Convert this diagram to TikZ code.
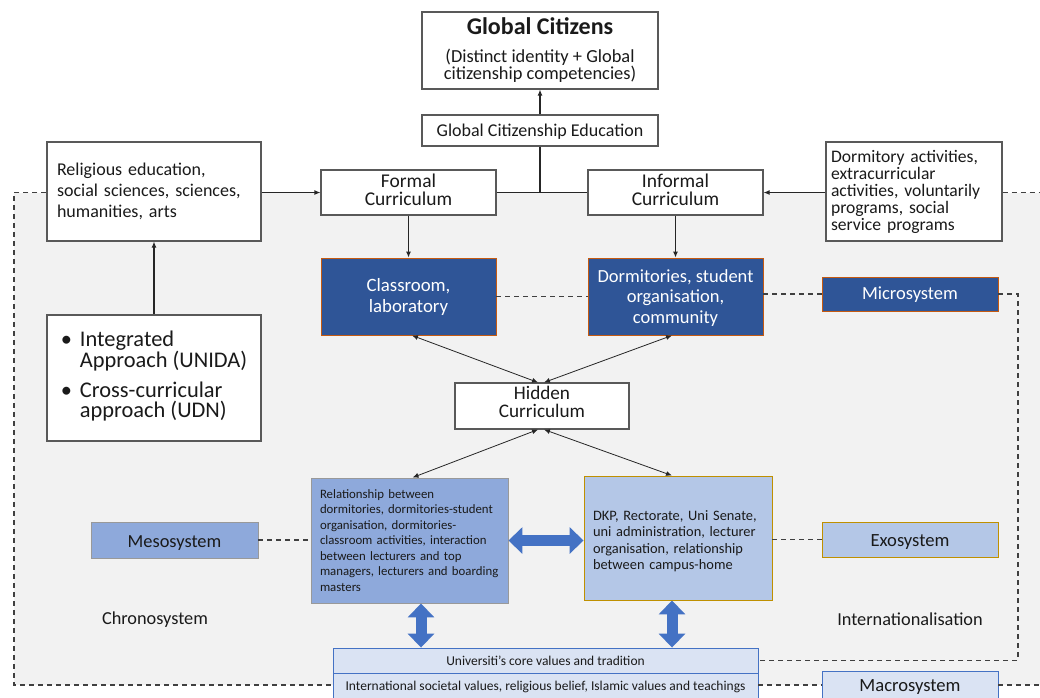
\documentclass[tikz,border=0pt]{standalone}
\usepackage{fontspec}
\setmainfont{Carlito}
\usetikzlibrary{arrows.meta,calc}
\definecolor{dkblue}{HTML}{2F5597}
\definecolor{dkborder}{HTML}{C55A11}
\definecolor{meso}{HTML}{8EA9DB}
\definecolor{exo}{HTML}{B4C7E7}
\definecolor{gold}{HTML}{BF9000}
\definecolor{macro}{HTML}{DAE3F3}
\definecolor{midblue}{HTML}{4472C4}
\definecolor{boxgray}{HTML}{595959}
\definecolor{bggray}{HTML}{F2F2F2}
\definecolor{dashgray}{HTML}{404040}
\definecolor{txt}{HTML}{1A1A1A}
\newcommand{\lowdepth}[1]{\rule[-#1]{0pt}{0pt}}
\newcommand{\tallht}[1]{\rule{0pt}{#1}}
\begin{document}
\begin{tikzpicture}[x=1pt,y=-1pt,
  base/.style={inner sep=0pt, align=center, text=txt},
  wbox/.style={base, draw=boxgray, line width=1.1pt, fill=white},
  dbox/.style={base, draw=dkborder, line width=0.9pt, fill=dkblue, text=white},
  mbox/.style={base, draw=gray!80, line width=0.9pt, fill=meso},
  ebox/.style={base, draw=gold, line width=0.9pt, fill=exo},
  cbox/.style={base, draw=midblue, line width=0.9pt, fill=macro},
  arr/.style={draw=black!85, line width=1.1pt, -{Latex[length=6pt,width=5pt]}},
  darr/.style={draw=black!85, line width=0.8pt, {Latex[length=6pt,width=5pt]}-{Latex[length=6pt,width=5pt]}},
  barr/.style={draw=midblue, line width=11pt, {Triangle[width=26pt,length=14pt]}-{Triangle[width=26pt,length=14pt]}},
  dsh/.style={draw=dashgray, line width=1.5pt, dash pattern=on 5pt off 4pt},
  f/.style={font=\fontsize{#1}{#1}\selectfont}
]
\useasboundingbox (0,0) rectangle (1040,697);
\fill[bggray] (14,192.5) rectangle (1045,685);

% top
\node[wbox, minimum width=236pt, minimum height=77pt] (gc) at (540,50.5)
  {\fontsize{24}{24}\selectfont\bfseries Global Citizens\\[13pt]
   \fontsize{18.4}{16.5}\selectfont (Distinct identity + Global\\ \fontsize{18.4}{16.5}\selectfont citizenship competencies)};
\node[wbox, minimum width=236pt, minimum height=31pt, f=18, text height=16.5pt, text depth=4.5pt] (gce) at (540,130.5) {Global Citizenship Education};

% curriculum row
\node[wbox, minimum width=214pt, minimum height=99pt, text width=194pt, align=left, font=\fontsize{18}{21}\selectfont] (relig) at (154,191.5)
  {Religious education,\\ social sciences, sciences,\\ humanities, arts};
\node[wbox, minimum width=175pt, minimum height=45pt, font=\fontsize{19.5}{18.5}\selectfont] (formal) at (408.5,192.5) {Formal\\ Curriculum\lowdepth{6pt}};
\node[wbox, minimum width=175pt, minimum height=45pt, font=\fontsize{19.5}{18.5}\selectfont] (informal) at (675.5,192.5) {Informal\\ Curriculum\lowdepth{6pt}};
\node[wbox, minimum width=176pt, minimum height=99pt, text width=166pt, align=left, font=\fontsize{17.6}{17}\selectfont] (dact) at (914,191.5)
  {Dormitory activities,\\ extracurricular\\ activities, voluntarily\\ programs, social\\ service programs};

% microsystem row
\node[dbox, minimum width=175pt, minimum height=77pt, font=\fontsize{18.8}{21}\selectfont] (class) at (408.5,296.5) {Classroom,\\ laboratory};
\node[dbox, minimum width=175pt, minimum height=77pt, font=\fontsize{18.5}{20.5}\selectfont] (dorm) at (675.5,296.5) {\tallht{15pt}Dormitories, student\\ organisation,\\ community};
\node[dbox, minimum width=176pt, minimum height=34pt, f=18.5, text height=15pt, text depth=4pt] (micro) at (910,294) {Microsystem};

% approaches
\node[wbox, minimum width=214pt, minimum height=126pt, font=\fontsize{22.4}{20.5}\selectfont] (integ) at (154,378)
  {\begin{tabular}{@{}l@{\hspace{8pt}}l@{}}
   \textbullet & \smash{Integrated}\\
               & \smash{Approach (UNIDA)}\\[9.5pt]
   \textbullet & \smash{Cross-curricular}\\
               & \smash{approach (UDN)}
   \end{tabular}};

\node[wbox, minimum width=174pt, minimum height=46pt, font=\fontsize{19.2}{18.5}\selectfont] (hidden) at (542,406) {Hidden\\ Curriculum\lowdepth{8pt}};

% meso / exo row
\node[mbox, minimum width=197pt, minimum height=125pt, text width=179pt, align=left, font=\fontsize{12.8}{15.5}\selectfont] (rel) at (409.5,540.5)
  {Relationship between\\ dormitories, dormitories-student\\ organisation, dormitories-\\ classroom activities, interaction\\ between lecturers and top\\ managers, lecturers and boarding\\ masters};
\node[ebox, minimum width=188pt, minimum height=124pt, text width=170pt, align=left, font=\fontsize{14.4}{16.5}\selectfont] (dkp) at (678,538)
  {\tallht{16pt}DKP, Rectorate, Uni Senate,\\ uni administration, lecturer\\ organisation, relationship\\ between campus-home};
\node[mbox, minimum width=167pt, minimum height=36pt, f=18.4, text height=18pt, text depth=3pt] (meso) at (174.5,540) {Mesosystem};
\node[ebox, minimum width=176pt, minimum height=35pt, f=18.6, text height=17pt, text depth=3pt] (exo) at (910,539.5) {Exosystem};

\node[base, f=18.3] (chrono) at (155,620) {Chronosystem};
\node[base, f=18.3] (intern) at (910,619.5) {Internationalisation};

% bottom
\node[cbox, minimum width=425pt, minimum height=25pt, f=13.5] (univ) at (545.5,660.5) {Universiti’s core values and tradition};
\node[cbox, minimum width=425pt, minimum height=27pt, f=13.5] (intl) at (545.5,686.5) {International societal values, religious belief, Islamic values and teachings};
\node[cbox, minimum width=176pt, minimum height=29pt, f=18.6, text height=16pt, text depth=3.2pt] (macro) at (910,685.5) {Macrosystem};

% solid connectors
\draw[arr] (gce.north) -- (gc.south);
\coordinate (J) at (gce.south |- formal.east);
\draw[draw=black!85, line width=1.1pt] (gce.south) -- (J) (formal.east) -- (informal.west);
\draw[arr] (relig.east |- formal.west) -- (formal.west);
\draw[arr] (dact.west |- informal.east) -- (informal.east);
\draw[arr] (formal.south) -- (class.north);
\draw[arr] (informal.south) -- (dorm.north);
\draw[arr] (integ.north) -- (relig.south);

\draw[darr] ([xshift=3.5pt]class.south) -- ([xshift=-4pt]hidden.north);
\draw[darr] ([xshift=-3.5pt]dorm.south) -- ([xshift=2pt]hidden.north);
\draw[darr] ([xshift=3pt]rel.north) -- ([xshift=-4pt]hidden.south);
\draw[darr] ([xshift=-6pt]dkp.north) -- ([xshift=2pt]hidden.south);

\draw[barr] (rel.east) -- (dkp.west |- rel.east);
\draw[barr] ([xshift=11.5pt]rel.south) -- ([xshift=11.5pt]rel.south |- univ.north);
\draw[barr] ([xshift=-6pt]dkp.south) -- ([xshift=-6pt]dkp.south |- univ.north);

% dashed connectors
\draw[dsh] (class.east) -- (dorm.west);
\draw[dsh] (dorm.east |- micro.west) -- (micro.west);
\draw[dsh] (micro.east) -- (1018,294) -- (1018,660.5) -- (univ.east);
\draw[dsh] (meso.east) -- (rel.west |- meso.east);
\draw[dsh] (dkp.east |- exo.west) -- (exo.west);
\draw[dsh] (relig.west |- formal.west) -- (14,192.5) -- (14,685) -- (intl.west |- 0,685);
\draw[dsh] (dact.east |- informal.east) -- (1045,192.5);
\draw[dsh] (intl.east |- 0,685) -- (macro.west |- 0,685);
\draw[dsh] (macro.east |- 0,685) -- (1045,685);
\end{tikzpicture}
\end{document}
